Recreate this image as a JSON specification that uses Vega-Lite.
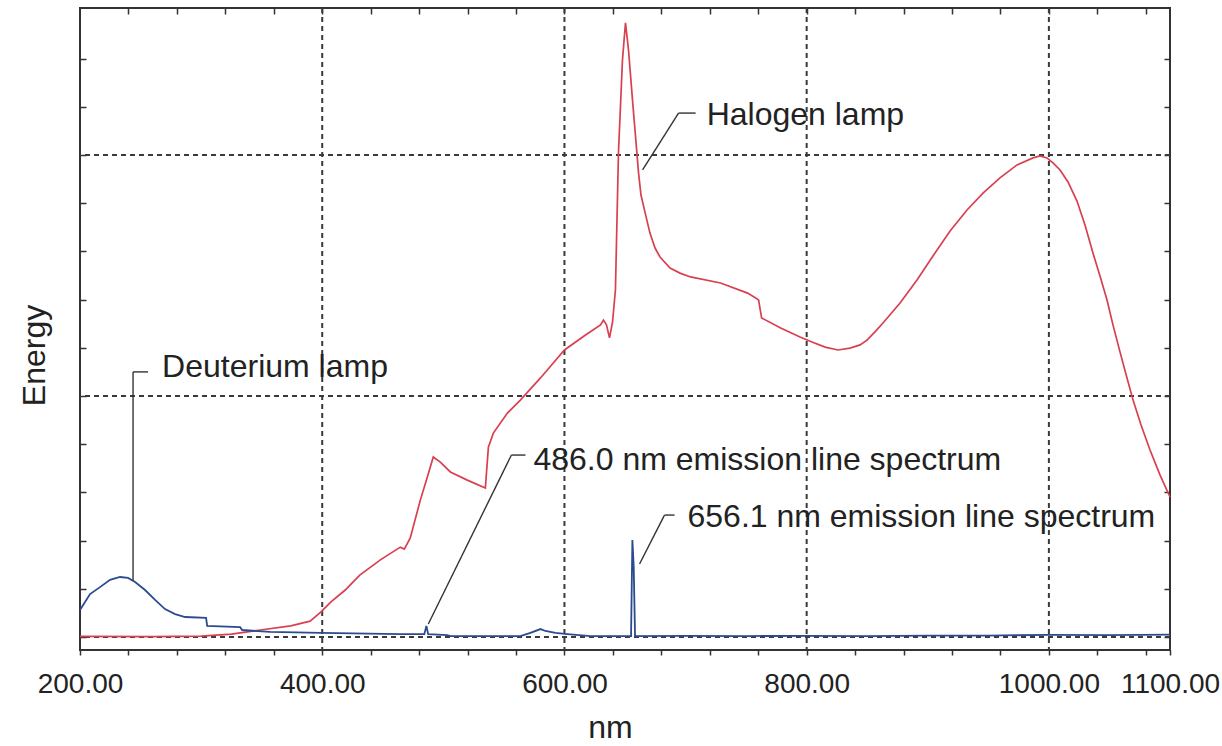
{
  "$schema": "https://vega.github.io/schema/vega-lite/v6.json",
  "width": 1090,
  "height": 642,
  "autosize": {"type": "none"},
  "padding": {"left": 80, "top": 8, "right": 52, "bottom": 96},
  "background": "white",
  "config": {
    "view": {"stroke": "#333333", "strokeWidth": 2},
    "font": "Liberation Sans"
  },
  "datasets": {
    "gridX": [{"nm": 400}, {"nm": 600}, {"nm": 800}, {"nm": 1000}],
    "gridY": [{"energy": 0}, {"energy": 100}, {"energy": 200}],
    "halogen": [
      {"nm": 200, "energy": 0.3}, {"nm": 260, "energy": 0.2}, {"nm": 300, "energy": 0.4},
      {"nm": 325, "energy": 1.2}, {"nm": 349, "energy": 2.9}, {"nm": 374, "energy": 4.6},
      {"nm": 390, "energy": 6.6}, {"nm": 399, "energy": 10.4}, {"nm": 407, "energy": 14.5},
      {"nm": 419, "energy": 19.5}, {"nm": 431, "energy": 25.7}, {"nm": 448, "energy": 32.0},
      {"nm": 464.5, "energy": 37.3}, {"nm": 467.8, "energy": 36.5}, {"nm": 472.7, "energy": 41.1},
      {"nm": 481, "energy": 56.8}, {"nm": 486.8, "energy": 66.4}, {"nm": 491.7, "energy": 74.7},
      {"nm": 497.5, "energy": 72.6}, {"nm": 505.8, "energy": 68.5}, {"nm": 519.8, "energy": 65.1},
      {"nm": 534.7, "energy": 61.8}, {"nm": 537.2, "energy": 78.8}, {"nm": 541.3, "energy": 84.6},
      {"nm": 552.9, "energy": 92.9}, {"nm": 563.6, "energy": 98.3}, {"nm": 580.2, "energy": 107.5},
      {"nm": 600, "energy": 119.1}, {"nm": 617.4, "energy": 125.3}, {"nm": 629.8, "energy": 129.5},
      {"nm": 632.2, "energy": 131.5}, {"nm": 634.7, "energy": 129.5}, {"nm": 637.2, "energy": 124.1},
      {"nm": 639.7, "energy": 130.7}, {"nm": 642.1, "energy": 144.0}, {"nm": 644.6, "energy": 200.8},
      {"nm": 647.9, "energy": 239.4}, {"nm": 650.4, "energy": 254.8}, {"nm": 652.9, "energy": 243.6},
      {"nm": 656.2, "energy": 222.8}, {"nm": 661.2, "energy": 192.5}, {"nm": 663.2, "energy": 183.4},
      {"nm": 666.5, "energy": 176.3}, {"nm": 670.6, "energy": 167.6}, {"nm": 674.8, "energy": 161.4},
      {"nm": 678.9, "energy": 157.7}, {"nm": 687.2, "energy": 153.1}, {"nm": 695.4, "energy": 151.0},
      {"nm": 704.1, "energy": 149.4}, {"nm": 728.9, "energy": 146.9}, {"nm": 751.2, "energy": 142.7},
      {"nm": 757.9, "energy": 140.7}, {"nm": 760.3, "energy": 139.8}, {"nm": 762.8, "energy": 132.4},
      {"nm": 778.5, "energy": 128.2}, {"nm": 794.5, "energy": 124.5}, {"nm": 804.4, "energy": 122.4},
      {"nm": 815.2, "energy": 120.3}, {"nm": 825.9, "energy": 119.1}, {"nm": 835.8, "energy": 119.9},
      {"nm": 844.1, "energy": 121.2}, {"nm": 849.8, "energy": 123.2}, {"nm": 856.4, "energy": 126.6},
      {"nm": 863.0, "energy": 130.3}, {"nm": 877.1, "energy": 138.6}, {"nm": 891.1, "energy": 148.1},
      {"nm": 904.3, "energy": 158.1}, {"nm": 918.4, "energy": 168.5}, {"nm": 932.4, "energy": 177.2},
      {"nm": 945.6, "energy": 184.2}, {"nm": 959.6, "energy": 190.5}, {"nm": 973.7, "energy": 195.9},
      {"nm": 986.9, "energy": 198.8}, {"nm": 992.7, "energy": 199.6}, {"nm": 998.4, "energy": 198.8},
      {"nm": 1003.4, "energy": 196.7}, {"nm": 1009.2, "energy": 193.8}, {"nm": 1015.8, "energy": 188.8},
      {"nm": 1023.2, "energy": 180.9}, {"nm": 1029.8, "energy": 171.0}, {"nm": 1036.4, "energy": 159.3},
      {"nm": 1042.2, "energy": 149.8}, {"nm": 1048.0, "energy": 139.8}, {"nm": 1052.9, "energy": 129.5},
      {"nm": 1058.7, "energy": 118.3}, {"nm": 1064.5, "energy": 107.5}, {"nm": 1069.5, "energy": 98.3},
      {"nm": 1076.1, "energy": 88.0}, {"nm": 1083.5, "energy": 77.6}, {"nm": 1091.8, "energy": 67.2},
      {"nm": 1100, "energy": 58.1}
    ],
    "deuterium": [
      {"nm": 200, "energy": 11.2}, {"nm": 208.3, "energy": 17.8}, {"nm": 216.5, "energy": 20.7},
      {"nm": 224.8, "energy": 23.7}, {"nm": 233.1, "energy": 24.9}, {"nm": 239.7, "energy": 24.5},
      {"nm": 245.5, "energy": 22.8}, {"nm": 253.7, "energy": 19.5}, {"nm": 262, "energy": 15.4},
      {"nm": 270.2, "energy": 11.6}, {"nm": 278.5, "energy": 9.5}, {"nm": 286.8, "energy": 8.3},
      {"nm": 304.1, "energy": 7.9}, {"nm": 305, "energy": 4.6}, {"nm": 332.2, "energy": 4.1},
      {"nm": 333.9, "energy": 2.9}, {"nm": 357, "energy": 2.1}, {"nm": 399.2, "energy": 1.7},
      {"nm": 464.5, "energy": 1.2}, {"nm": 484.3, "energy": 1.2}, {"nm": 486.0, "energy": 4.6},
      {"nm": 487.5, "energy": 1.2}, {"nm": 503.3, "energy": 0.8}, {"nm": 505.8, "energy": 0.4},
      {"nm": 563.6, "energy": 0.4}, {"nm": 571.9, "energy": 1.7}, {"nm": 580.2, "energy": 3.3},
      {"nm": 584.3, "energy": 2.5}, {"nm": 592.6, "energy": 1.7}, {"nm": 602.5, "energy": 1.2},
      {"nm": 621.5, "energy": 0.4}, {"nm": 655.0, "energy": 0.4}, {"nm": 656.1, "energy": 40.2},
      {"nm": 657.2, "energy": 29.0}, {"nm": 658.3, "energy": 0.4}, {"nm": 700, "energy": 0.5},
      {"nm": 750, "energy": 0.4}, {"nm": 800, "energy": 0.5}, {"nm": 850, "energy": 0.4},
      {"nm": 900, "energy": 0.6}, {"nm": 950, "energy": 0.6}, {"nm": 1000, "energy": 0.9},
      {"nm": 1050, "energy": 0.8}, {"nm": 1100, "energy": 1.0}
    ],
    "leaders": [
      {"nm": 243.8, "energy": 110.0, "nm2": 256.2, "energy2": 110.0},
      {"nm": 243.8, "energy": 110.0, "nm2": 243.8, "energy2": 23.5},
      {"nm": 694.2, "energy": 217.4, "nm2": 708.3, "energy2": 217.4},
      {"nm": 694.2, "energy": 217.4, "nm2": 664.5, "energy2": 193.8},
      {"nm": 556.2, "energy": 75.5, "nm2": 567.8, "energy2": 75.5},
      {"nm": 556.2, "energy": 75.5, "nm2": 487.6, "energy2": 5.4},
      {"nm": 682.6, "energy": 50.6, "nm2": 690.9, "energy2": 50.6},
      {"nm": 682.6, "energy": 50.6, "nm2": 662.0, "energy2": 30.3}
    ],
    "labels": [
      {"label": "Deuterium lamp", "nm": 267.8, "energy": 107.9},
      {"label": "Halogen lamp", "nm": 717.4, "energy": 212.4},
      {"label": "486.0 nm emission line spectrum", "nm": 574.4, "energy": 69.3},
      {"label": "656.1 nm emission line spectrum", "nm": 701.6, "energy": 45.6}
    ]
  },
  "layer": [
    {
      "data": {"name": "gridX"},
      "mark": {"type": "rule", "color": "#3a3a3a", "strokeWidth": 2, "strokeDash": [5, 4]},
      "encoding": {
        "x": {"field": "nm", "type": "quantitative", "scale": {"domain": [200, 1100], "nice": false, "zero": false}, "axis": null}
      }
    },
    {
      "data": {"name": "gridY"},
      "mark": {"type": "rule", "color": "#3a3a3a", "strokeWidth": 2, "strokeDash": [5, 4]},
      "encoding": {
        "y": {"field": "energy", "type": "quantitative", "scale": {"domain": [-5.39, 261], "nice": false, "zero": false}, "axis": null}
      }
    },
    {
      "data": {"name": "halogen"},
      "mark": {"type": "line", "color": "#d8404f", "strokeWidth": 1.7},
      "encoding": {
        "x": {
          "field": "nm", "type": "quantitative",
          "scale": {"domain": [200, 1100], "nice": false, "zero": false},
          "axis": {
            "orient": "bottom",
            "values": [200, 240, 280, 320, 360, 400, 440, 480, 520, 560, 600, 640, 680, 720, 760, 800, 840, 880, 920, 960, 1000, 1040, 1080, 1100],
            "labelExpr": "indexof([200, 400, 600, 800, 1000, 1100], datum.value) >= 0 ? format(datum.value, '.2f') : ''",
            "domain": false, "grid": false,
            "tickSize": 5, "tickColor": "#333333", "tickWidth": 1.5,
            "labelFont": "Liberation Sans", "labelFontSize": 28, "labelColor": "#222222",
            "labelPadding": 15, "labelOverlap": false, "labelFlush": false, "labelBound": false,
            "title": "nm", "titleFont": "Liberation Sans", "titleFontSize": 32, "titleFontWeight": "normal",
            "titleColor": "#222222", "titleX": 530, "titleY": 77, "titleBaseline": "middle", "titleAlign": "center"
          }
        },
        "y": {
          "field": "energy", "type": "quantitative",
          "scale": {"domain": [-5.39, 261], "nice": false, "zero": false},
          "axis": {
            "orient": "left",
            "values": [0, 20, 40, 60, 80, 100, 120, 140, 160, 180, 200, 220, 240],
            "labels": false, "domain": false, "grid": false,
            "tickSize": -6, "tickColor": "#333333", "tickWidth": 1.5,
            "title": "Energy", "titleFont": "Liberation Sans", "titleFontSize": 32, "titleFontWeight": "normal",
            "titleColor": "#222222", "titleAngle": 270, "titleX": -46, "titleY": 347,
            "titleBaseline": "middle", "titleAlign": "center"
          }
        }
      }
    },
    {
      "data": {"name": "deuterium"},
      "mark": {"type": "line", "color": "#2b4a8f", "strokeWidth": 1.8},
      "encoding": {
        "x": {
          "field": "nm", "type": "quantitative",
          "scale": {"domain": [200, 1100], "nice": false, "zero": false},
          "axis": {
            "orient": "top",
            "values": [240, 280, 320, 360, 400, 440, 480, 520, 560, 600, 640, 680, 720, 760, 800, 840, 880, 920, 960, 1000, 1040, 1080],
            "labels": false, "domain": false, "grid": false,
            "tickSize": -6, "tickColor": "#333333", "tickWidth": 1.5, "title": null
          }
        },
        "y": {
          "field": "energy", "type": "quantitative",
          "scale": {"domain": [-5.39, 261], "nice": false, "zero": false},
          "axis": {
            "orient": "right",
            "values": [0, 20, 40, 60, 80, 100, 120, 140, 160, 180, 200, 220, 240],
            "labels": false, "domain": false, "grid": false,
            "tickSize": -6, "tickColor": "#333333", "tickWidth": 1.5, "title": null
          }
        }
      }
    },
    {
      "data": {"name": "leaders"},
      "mark": {"type": "rule", "color": "#333333", "strokeWidth": 1.4},
      "encoding": {
        "x": {"field": "nm", "type": "quantitative", "scale": {"domain": [200, 1100], "nice": false, "zero": false}, "axis": null},
        "y": {"field": "energy", "type": "quantitative", "scale": {"domain": [-5.39, 261], "nice": false, "zero": false}, "axis": null},
        "x2": {"field": "nm2"},
        "y2": {"field": "energy2"}
      }
    },
    {
      "data": {"name": "labels"},
      "mark": {"type": "text", "align": "left", "baseline": "alphabetic", "font": "Liberation Sans", "fontSize": 32, "color": "#222222"},
      "encoding": {
        "x": {"field": "nm", "type": "quantitative", "scale": {"domain": [200, 1100], "nice": false, "zero": false}, "axis": null},
        "y": {"field": "energy", "type": "quantitative", "scale": {"domain": [-5.39, 261], "nice": false, "zero": false}, "axis": null},
        "text": {"field": "label"}
      }
    }
  ],
  "resolve": {"axis": {"x": "independent", "y": "independent"}}
}
